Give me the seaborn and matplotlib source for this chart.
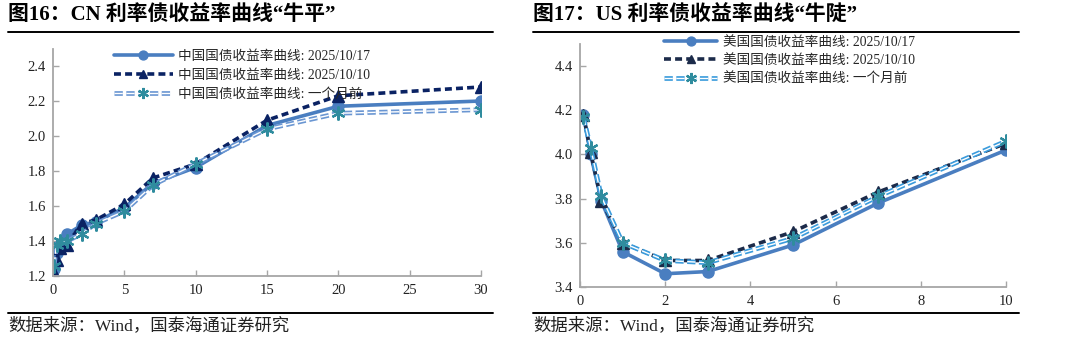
import matplotlib
matplotlib.use("Agg")
import matplotlib.pyplot as plt
import matplotlib.patheffects as pe
from matplotlib.legend_handler import HandlerTuple
from matplotlib.lines import Line2D
import seaborn as sns
import pandas as pd

# ---------------- data ----------------
cn_tenor = [0.08, 0.25, 0.5, 1, 2, 3, 5, 7, 10, 15, 20, 30]
cn_1017 = [1.24, 1.33, 1.38, 1.44, 1.49, 1.51, 1.59, 1.73, 1.82, 2.06, 2.17, 2.20]
cn_1010 = [1.22, 1.29, 1.36, 1.38, 1.50, 1.52, 1.61, 1.76, 1.84, 2.09, 2.23, 2.28]
cn_1m = [1.26, 1.38, 1.40, 1.40, 1.44, 1.50, 1.57, 1.72, 1.84, 2.04, 2.13, 2.15]

us_tenor = [0.08, 0.25, 0.5, 1, 2, 3, 5, 7, 10]
us_1017 = [4.18, 4.00, 3.79, 3.56, 3.46, 3.47, 3.59, 3.78, 4.02]
us_1010 = [4.18, 4.01, 3.79, 3.60, 3.52, 3.52, 3.65, 3.83, 4.05]
us_1m = [4.17, 4.03, 3.81, 3.60, 3.52, 3.51, 3.62, 3.81, 4.06]

cn_labels = ["中国国债收益率曲线: 2025/10/17", "中国国债收益率曲线: 2025/10/10", "中国国债收益率曲线: 一个月前"]
us_labels = ["美国国债收益率曲线: 2025/10/17", "美国国债收益率曲线: 2025/10/10", "美国国债收益率曲线: 一个月前"]
cn_xticks = [0, 5, 10, 15, 20, 25, 30]
cn_yticks = [1.2, 1.4, 1.6, 1.8, 2.0, 2.2, 2.4]
us_xticks = [0, 2, 4, 6, 8, 10]
us_yticks = [3.4, 3.6, 3.8, 4.0, 4.2, 4.4]
titles = ["图16：CN 利率债收益率曲线“牛平”", "图17：US 利率债收益率曲线“牛陡”"]
source = "数据来源：Wind，国泰海通证券研究"

# ---------------- style ----------------
sns.set_style("white")
plt.rcParams["font.family"] = ["Liberation Serif", "Noto Sans CJK SC"]
plt.rcParams["lines.scale_dashes"] = False
plt.rcParams["axes.unicode_minus"] = False

fig = plt.figure(figsize=(10.8, 3.37), dpi=100)
axL = fig.add_axes([53 / 1080, 1 - 276 / 337, 428 / 1080, 227.5 / 337])
axR = fig.add_axes([580 / 1080, 1 - 287 / 337, 426 / 1080, 243 / 337])

c_solid = "#4A7EC0"
spine_c = "#A6A6A6"


def draw(ax, x, s1, s2, s3, navy, dbl, star):
    df = pd.DataFrame({"x": x, "a": s1, "b": s2, "c": s3})
    sns.lineplot(data=df, x="x", y="a", ax=ax, color=c_solid, lw=2.6,
                 marker="o", markersize=8, markeredgecolor=c_solid,
                 markerfacecolor=c_solid, markeredgewidth=1)
    h1 = ax.lines[-1]
    sns.lineplot(data=df, x="x", y="b", ax=ax, color=navy, lw=2.6,
                 marker="^", markersize=8, markeredgecolor=navy,
                 markerfacecolor=navy, markeredgewidth=1)
    h2 = ax.lines[-1]
    h2.set_dashes((5, 3))
    # double line (white core with coloured stroke)
    sns.lineplot(data=df, x="x", y="c", ax=ax, color="white", lw=1.0)
    h3 = ax.lines[-1]
    h3.set_dashes((6, 2.5))
    h3.set_path_effects([pe.Stroke(linewidth=3.4, foreground=dbl), pe.Normal()])
    sns.lineplot(data=df, x="x", y="c", ax=ax, linestyle="none",
                 marker=(6, 2, 0), markersize=10, markeredgecolor=star,
                 markeredgewidth=1.6, color=star)
    h4 = ax.lines[-1]
    return [h1, h2, (h3, h4)]


hL = draw(axL, cn_tenor, cn_1017, cn_1010, cn_1m, "#0A2263", "#6A96D2", "#2F8C9E")
hR = draw(axR, us_tenor, us_1017, us_1010, us_1m, "#1C2B4A", "#3A9BDC", "#2F8C9E")

for ax, xt, yt, xl, yl in [(axL, cn_xticks, cn_yticks, (0, 30), (1.2, 2.5)),
                           (axR, us_xticks, us_yticks, (0, 10), (3.4, 4.5))]:
    ax.set_xlim(*xl)
    ax.set_ylim(*yl)
    ax.set_xticks(xt)
    ax.set_yticks(yt)
    ax.set_xticklabels([str(v) for v in xt])
    ax.set_yticklabels([f"{v:.1f}" for v in yt])
    ax.set_xlabel("")
    ax.set_ylabel("")
    for s in ["top", "right"]:
        ax.spines[s].set_visible(False)
    for s in ["left", "bottom"]:
        ax.spines[s].set_color(spine_c)
        ax.spines[s].set_linewidth(1.3)
    ax.tick_params(axis="both", direction="in", length=4, width=1, color=spine_c,
                   labelsize=10.5, labelcolor="#222222", pad=5)
    ax.tick_params(axis="y", left=True)
    ax.tick_params(axis="x", bottom=True, pad=6)

hm = {tuple: HandlerTuple(ndivide=1, pad=0)}
fig.legend(hL, cn_labels, loc="upper left", bbox_to_anchor=(114 / 1080, 1 - 50 / 337),
           frameon=False, fontsize=9.8, handlelength=4.3, handletextpad=0.4,
           labelspacing=0.42, borderpad=0, borderaxespad=0, markerscale=0.8,
           handler_map=hm)
fig.legend(hR, us_labels, loc="upper left", bbox_to_anchor=(664 / 1080, 1 - 36 / 337),
           frameon=False, fontsize=9.8, handlelength=3.9, handletextpad=0.4,
           labelspacing=0.38, borderpad=0, borderaxespad=0, markerscale=0.8,
           handler_map=hm)

# titles and footers
for x0, x1, t in [(8, 493, titles[0]), (533, 1019, titles[1])]:
    fig.text(x0 / 1080, 1 - 16 / 337, t, fontsize=15, fontweight="bold",
             va="center", ha="left", color="black")
    fig.add_artist(Line2D([x0 / 1080, x1 / 1080], [1 - 32 / 337] * 2,
                          color="black", lw=1.4, transform=fig.transFigure))
    fig.add_artist(Line2D([x0 / 1080, x1 / 1080], [1 - 313 / 337] * 2,
                          color="black", lw=1.4, transform=fig.transFigure))
    fig.text(x0 / 1080, 1 - 326 / 337, source, fontsize=12.5, va="center",
             ha="left", color="#222222")

fig.savefig("out.png", dpi=100, facecolor="white")
